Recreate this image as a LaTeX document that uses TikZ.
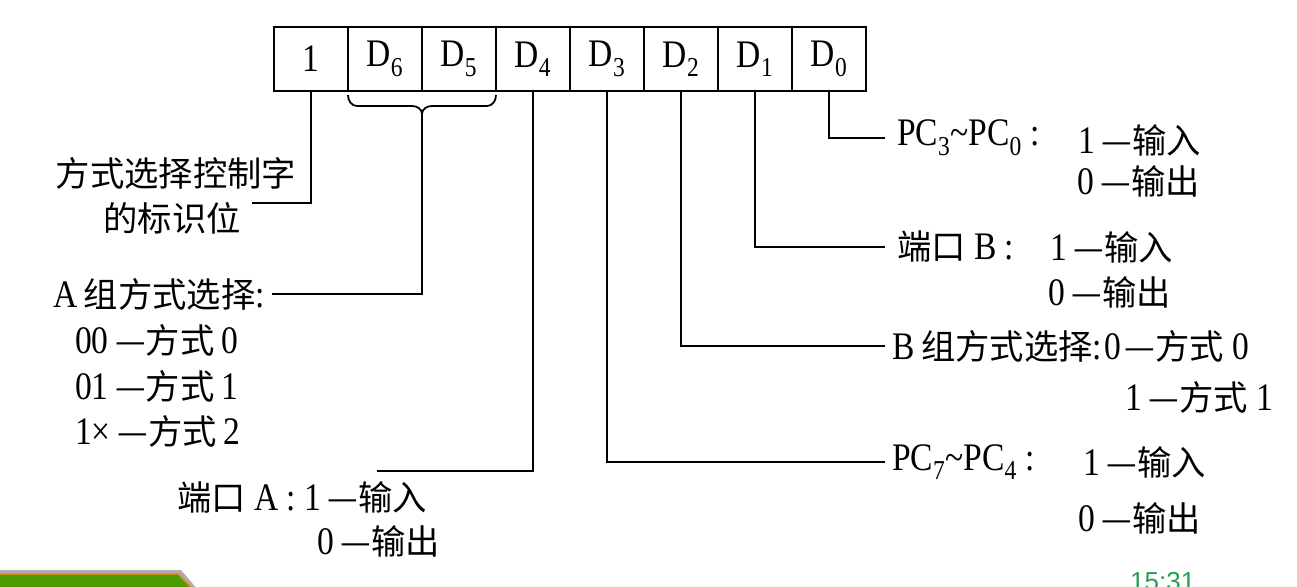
\documentclass[tikz,border=0pt]{standalone}
\usepackage{fontspec}
\setmainfont{Liberation Serif}[FakeStretch=0.86]
\newfontfamily\cjk{Noto Sans CJK SC}[Scale=0.88]
\newfontfamily\uisans{Liberation Sans}
\newcommand\figfs{\fontsize{39}{44}\selectfont}
\definecolor{btngreen}{HTML}{4A9A00}
\definecolor{btnorange}{HTML}{D08A10}
\definecolor{clockgreen}{HTML}{22A050}
\begin{document}
\begin{tikzpicture}[x=1pt,y=-1pt,
  cell/.style={draw, line width=2.4pt, minimum width=74pt, minimum height=64pt, inner sep=0pt, font=\figfs},
  txt/.style={inner sep=0pt, font=\figfs},
  conn/.style={line width=2pt},
  bracepath/.style={line width=1.8pt}]
\useasboundingbox (0,0) rectangle (1297,586);
\clip (0,0) rectangle (1297,586);

% register cells
\node[cell] (b7) at (311,59) {1};
\node[cell] (b6) at (385,59) {D\textsubscript{6}};
\node[cell] (b5) at (459,59) {D\textsubscript{5}};
\node[cell] (b4) at (533,59) {D\textsubscript{4}};
\node[cell] (b3) at (607,59) {D\textsubscript{3}};
\node[cell] (b2) at (681,59) {D\textsubscript{2}};
\node[cell] (b1) at (755,59) {D\textsubscript{1}};
\node[cell] (b0) at (829,59) {D\textsubscript{0}};

% brace under D6 D5
\draw[bracepath] (348,95) to[out=-90,in=180] (357,106) -- (412,106) to[out=0,in=90] (422,114)
  to[out=90,in=180] (432,106) -- (487,106) to[out=0,in=-90] (496,95);
\coordinate (btip) at (422,113);

% left texts
\node[txt] (l7a) at (176,173) {{\cjk 方式选择控制字}};
\node[txt] (l7b) at (172,218) {{\cjk 的标识位}};
\coordinate (e7) at (252,203);

\node[txt, anchor=west] (lAa) at (53,294) {A\,{\cjk 组方式选择}:};
\node[txt, anchor=west] (lAb) at (75,340) {00\,{\cjk —方式}\,0};
\node[txt, anchor=west] (lAc) at (75,386) {01\,{\cjk —方式}\,1};
\node[txt, anchor=west] (lAd) at (75,431) {1×\,{\cjk —方式}\,2};

\node[txt, anchor=west] (l4a) at (177,497) {{\cjk 端口} A : 1\,{\cjk —输入}};
\node[txt, anchor=west] (l4b) at (317,541) {0\,{\cjk —输出}};
\coordinate (e4) at (377,471);

% right texts
\node[txt, anchor=west] (r0a) at (897,138) {PC\textsubscript{3}\textasciitilde PC\textsubscript{0}\ :};
\node[txt, anchor=west] (r0b) at (1078,140) {1\,{\cjk —输入}};
\node[txt, anchor=west] (r0c) at (1077,181) {0\,{\cjk —输出}};

\node[txt, anchor=west] (r1a) at (897,247) {{\cjk 端口} B :};
\node[txt, anchor=west] (r1b) at (1050,247) {1\,{\cjk —输入}};
\node[txt, anchor=west] (r1c) at (1048,292) {0\,{\cjk —输出}};

\node[txt, anchor=west] (r2a) at (892,346) {B\,{\cjk 组方式选择}:\hspace{3pt}0\hspace{3pt}{\cjk —方式}\ 0};
\node[txt, anchor=east] (r2b) at (1273,397) {1\,{\cjk —方式}\ 1};

\node[txt, anchor=west] (r3a) at (892,462) {PC\textsubscript{7}\textasciitilde PC\textsubscript{4}\ :};
\node[txt, anchor=west] (r3b) at (1083,462) {1\,{\cjk —输入}};
\node[txt, anchor=west] (r3c) at (1078,518) {0\,{\cjk —输出}};

% connectors
\draw[conn] (b7.south) |- (e7);
\draw[conn] (btip) |- ([xshift=7pt]lAa.east);
\draw[conn] (b4.south) |- (e4);
\draw[conn] (b3.south) |- ([xshift=-7pt]r3a.west);
\draw[conn] (b2.south) |- ([xshift=-7pt]r2a.west);
\draw[conn] (b1.south) |- ([xshift=-12pt]r1a.west);
\draw[conn] (b0.south) |- ([xshift=-12pt]r0a.west);

% partial green button at bottom left
\fill[gray!65] (-5,570) -- (181,570) -- (198,590) -- (-5,590) -- cycle;
\fill[btngreen] (-5,574) -- (178,574) -- (193,590) -- (-5,590) -- cycle;
\draw[btnorange, line width=1.5pt] (-5,574) -- (178,574) -- (193,590);

% clock text, cut at the bottom
\node[anchor=north west, inner sep=0pt, text=clockgreen, font=\uisans\fontsize{26}{30}\selectfont] (clk) at (1130,572) {15:31};
\end{tikzpicture}
\end{document}
